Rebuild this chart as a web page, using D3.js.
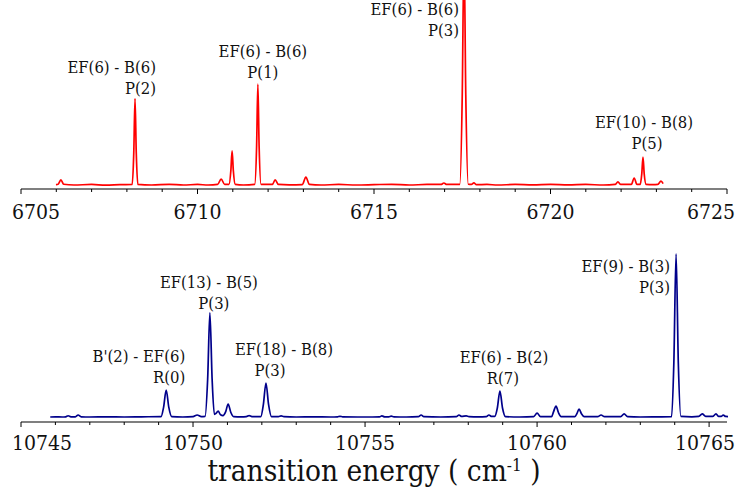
<!DOCTYPE html>
<html>
<head>
<meta charset="utf-8">
<script src="https://cdn.jsdelivr.net/npm/d3@7"></script>
<style>
  body { margin: 0; background: #fff; }
  svg { display: block; }
  text { font-family: "DejaVu Serif", serif; font-stretch: condensed; fill: #111; }
</style>
</head>
<body>
<svg id="chart" width="736" height="492"></svg>
<script>
// --- data ---
var topDomain = [6705, 6725];
var bottomDomain = [10745, 10765.52];
var topTicks = [6705, 6710, 6715, 6720, 6725];
var bottomTicks = [10745, 10750, 10755, 10760, 10765];

// red trace (energy, intensity a.u.)
var topSpectrum = [
  [6705.99, 0.2], [6706.05, 0.4], [6706.13, 2.8], [6706.21, 0.4], [6706.5, 0], [6707.0, 0.3],
  [6707.4, -0.1], [6707.8, 0.2], [6708.15, 0.3], [6708.195, 18], [6708.23, 48], [6708.265, 18],
  [6708.31, 0.3], [6708.7, 0], [6709.2, 0.4], [6709.6, 0], [6710.0, 0.3], [6710.3, 0],
  [6710.57, 0.3], [6710.67, 3.3], [6710.77, 0.3], [6710.89, 0.3], [6710.945, 8], [6710.98, 19],
  [6711.015, 8], [6711.07, 0.3], [6711.3, 0], [6711.62, 0.3], [6711.675, 22], [6711.71, 56],
  [6711.745, 22], [6711.80, 0.4], [6712.0, 0.3], [6712.12, 0.3], [6712.20, 2.8], [6712.29, 0.3],
  [6712.6, 0.1], [6712.97, 0.2], [6713.07, 4.4], [6713.17, 0.3], [6713.5, 0], [6714.0, 0.3],
  [6714.5, 0], [6715.0, 0.2], [6715.5, 0.4], [6716.0, 0], [6716.5, 0.3], [6716.9, 0.3],
  [6716.98, 1.1], [6717.06, 0.3], [6717.43, 0.4], [6717.50, 50], [6717.55, 130], [6717.60, 50],
  [6717.67, 0.4], [6717.76, 0.3], [6717.83, 1.2], [6717.90, 0.2], [6718.2, 0.3], [6718.5, 0],
  [6719.0, 0.3], [6719.5, 0.1], [6720.0, 0.4], [6720.5, 0.1], [6721.0, 0.3], [6721.5, 0],
  [6721.83, 0.3], [6721.91, 1.7], [6721.99, 0.3], [6722.29, 0.3], [6722.37, 3.9], [6722.45, 0.3],
  [6722.54, 0.3], [6722.585, 6], [6722.62, 15.5], [6722.655, 6], [6722.71, 0.3], [6722.90, 0.2],
  [6723.04, 0.3], [6723.13, 2.2], [6723.19, 0.8]
];

// blue trace
var bottomSpectrum = [
  [10745.85, 0], [10746.0, 0.1], [10746.2, 0], [10746.30, 0.1], [10746.37, 0.7], [10746.45, 0.1],
  [10746.58, 0.1], [10746.66, 1.1], [10746.75, 0.1], [10747.0, 0], [10747.5, 0.1], [10748.0, 0],
  [10748.5, 0.1], [10749.07, 0.2], [10749.145, 5.5], [10749.22, 15], [10749.295, 5.5], [10749.38, 0.2],
  [10749.7, 0], [10750.0, 0.2], [10750.12, 1.1], [10750.24, 0.2], [10750.35, 0.3], [10750.425, 21],
  [10750.49, 57.8], [10750.555, 21], [10750.62, 1.5], [10750.67, 2], [10750.73, 3.3], [10750.80, 1.2],
  [10750.87, 0.8], [10750.95, 3], [10751.02, 7.2], [10751.10, 2.5], [10751.18, 0.2], [10751.4, 0.1],
  [10751.55, 0.2], [10751.63, 0.8], [10751.71, 0.2], [10751.97, 0.2], [10752.045, 7], [10752.12, 18.9],
  [10752.195, 7], [10752.28, 0.2], [10752.48, 0.2], [10752.56, 0.6], [10752.64, 0.2], [10753.0, 0],
  [10753.5, 0.1], [10754.0, 0], [10754.2, 0.1], [10754.27, 0.4], [10754.35, 0.1], [10755.0, 0],
  [10755.42, 0.1], [10755.49, 0.6], [10755.57, 0.1], [10755.69, 0.1], [10755.76, 0.5], [10755.84, 0.1],
  [10756.2, 0], [10756.55, 0.2], [10756.63, 1.1], [10756.71, 0.2], [10757.2, 0], [10757.65, 0.2],
  [10757.73, 1.1], [10757.81, 0.3], [10757.94, 0.6], [10758.02, 0.2], [10758.3, 0.1], [10758.52, 0.2],
  [10758.60, 1.1], [10758.68, 0.3], [10758.77, 0.3], [10758.845, 5], [10758.92, 14.4], [10758.995, 5],
  [10759.08, 0.2], [10759.5, 0], [10759.9, 0.2], [10760.0, 2.2], [10760.1, 0.2], [10760.42, 0.2],
  [10760.48, 3], [10760.55, 6.1], [10760.62, 2.5], [10760.70, 0.2], [10761.1, 0.2], [10761.16, 2],
  [10761.22, 4.4], [10761.29, 1.8], [10761.37, 0.2], [10761.76, 0.2], [10761.86, 1.1], [10761.96, 0.2],
  [10762.43, 0.2], [10762.53, 1.7], [10762.63, 0.2], [10763.0, 0], [10763.5, 0.1], [10763.91, 0.2],
  [10763.975, 30], [10764.04, 90.6], [10764.105, 30], [10764.18, 0.3], [10764.5, 0.1], [10764.7, 0.3],
  [10764.80, 1.7], [10764.90, 0.4], [10765.1, 0.3], [10765.20, 1.7], [10765.28, 0.3], [10765.35, 0.3],
  [10765.41, 1.1], [10765.48, 0.3], [10765.55, 0.2]
];

// assignments: peak energy, two text lines
var topLabels = [
  {e: 6708.23, lines: ["EF(6) - B(6)", "P(2)"]},
  {e: 6711.71, lines: ["EF(6) - B(6)", "P(1)"]},
  {e: 6717.55, lines: ["EF(6) - B(6)", "P(3)"]},
  {e: 6722.62, lines: ["EF(10) - B(8)", "P(5)"]}
];
var bottomLabels = [
  {e: 10749.22, lines: ["B'(2) - EF(6)", "R(0)"]},
  {e: 10750.49, lines: ["EF(13) - B(5)", "P(3)"]},
  {e: 10752.12, lines: ["EF(18) - B(8)", "P(3)"]},
  {e: 10758.92, lines: ["EF(6) - B(2)", "R(7)"]},
  {e: 10764.04, lines: ["EF(9) - B(3)", "P(3)"]}
];

// --- layout ---
var svg = d3.select("#chart");

// label placement (anchor, x offset from peak per line, first baseline)
var topPlace = [
  {anchor: "end", dx: [21, 21], y: 73},
  {anchor: "middle", dx: [5, 5], y: 57},
  {anchor: "end", dx: [-5, -5], y: 15},
  {anchor: "middle", dx: [1, 4], y: 128}
];
var bottomPlace = [
  {anchor: "end", dx: [19, 19], y: 362},
  {anchor: "middle", dx: [-1, 4], y: 288},
  {anchor: "middle", dx: [18, 4], y: 355},
  {anchor: "middle", dx: [4, 3], y: 363},
  {anchor: "end", dx: [-6, -6], y: 272}
];

function panel(opt) {
  var x = d3.scaleLinear().domain(opt.domain).range([21, 727]);
  var y = d3.scaleLinear().domain([0, 100]).range([opt.base, opt.base - 180]);
  var g = svg.append("g");

  var line = d3.line()
      .x(function(d) { return x(d[0]); })
      .y(function(d) { return y(d[1]); })
      .curve(d3.curveMonotoneX);

  g.append("path")
      .datum(opt.data)
      .attr("fill", "none")
      .attr("stroke", opt.color)
      .attr("stroke-width", 1.7)
      .attr("stroke-linejoin", "round")
      .attr("d", line);

  // axis line, major and minor ticks
  var minor = d3.range(Math.ceil(opt.domain[0]), opt.domain[1] + 0.001, 1);
  var axisG = g.append("g").attr("transform", "translate(0," + opt.axisY + ")");
  axisG.append("line")
      .attr("x1", x(opt.domain[0])).attr("x2", 727)
      .attr("stroke", "#000").attr("stroke-width", 1.2);
  axisG.selectAll("line.minor")
      .data(minor)
    .enter().append("line")
      .attr("class", "minor")
      .attr("x1", function(d) { return x(d); })
      .attr("x2", function(d) { return x(d); })
      .attr("y2", function(d) { return opt.ticks.indexOf(d) >= 0 ? 5 : 3; })
      .attr("stroke", "#000").attr("stroke-width", 1);

  var labels = axisG.selectAll("text.tick")
      .data(opt.ticks)
    .enter().append("text")
      .attr("class", "tick")
      .attr("x", function(d) { return x(d); })
      .attr("y", opt.labelY)
      .attr("text-anchor", "middle")
      .attr("font-size", 21)
      .text(function(d) { return d; });

  // keep labels inside the picture
  labels.each(function() {
    var b = this.getBBox();
    var t = d3.select(this);
    if (b.x < 12) t.attr("x", +t.attr("x") + (12 - b.x));
    if (b.x + b.width > 735) t.attr("x", +t.attr("x") - (b.x + b.width - 735));
  });

  opt.labels.forEach(function(l, i) {
    var p = opt.place[i];
    l.lines.forEach(function(s, j) {
      g.append("text")
          .attr("x", x(l.e) + p.dx[j])
          .attr("y", p.y + j * 20.5)
          .attr("text-anchor", p.anchor)
          .attr("font-size", 16.5)
          .text(s);
    });
  });
}

panel({domain: topDomain, ticks: topTicks, data: topSpectrum, color: "#ff0000",
       base: 185, axisY: 189, labelY: 30, labels: topLabels, place: topPlace});
panel({domain: bottomDomain, ticks: bottomTicks, data: bottomSpectrum, color: "#00008b",
       base: 417, axisY: 422, labelY: 28, labels: bottomLabels, place: bottomPlace});

var title = svg.append("text")
    .attr("x", 374)
    .attr("y", 481)
    .attr("text-anchor", "middle")
    .attr("font-size", 29.5);
title.append("tspan").text("transition energy ( cm");
title.append("tspan").attr("font-size", 17).attr("dy", -10).text("-1");
title.append("tspan").attr("dy", 10).text(" )");
</script>
</body>
</html>
